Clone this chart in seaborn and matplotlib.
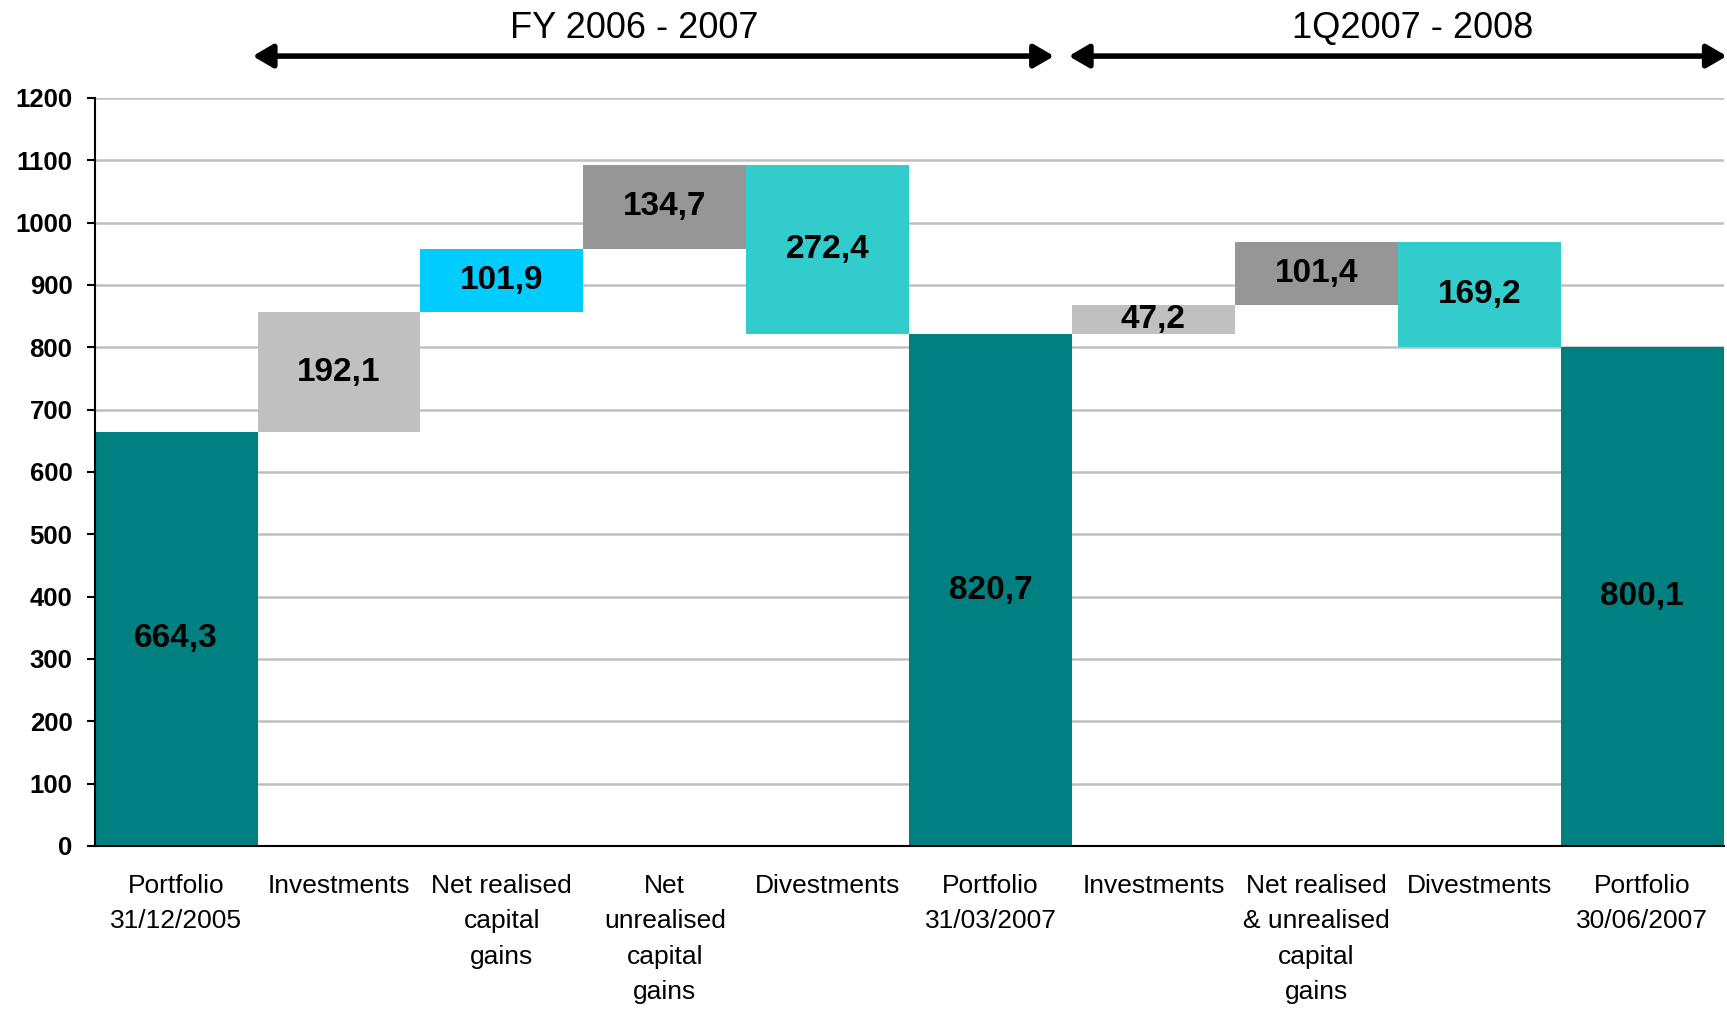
import matplotlib
matplotlib.use("Agg")
import matplotlib.pyplot as plt
import seaborn as sns
import numpy as np

# ---- data ----
categories = ["Portfolio\n31/12/2005", "Investments", "Net realised\ncapital\ngains",
              "Net\nunrealised\ncapital\ngains", "Divestments", "Portfolio\n31/03/2007",
              "Investments", "Net realised\n& unrealised\ncapital\ngains", "Divestments",
              "Portfolio\n30/06/2007"]
values = [664.3, 192.1, 101.9, 134.7, 272.4, 820.7, 47.2, 101.4, 169.2, 800.1]
bases = [0, 664.3, 856.4, 958.3, 820.6, 0, 820.7, 867.9, 800.1, 0]
bar_colors = ["#008080", "#C0C0C0", "#00CCFF", "#969696", "#33CCCC", "#008080",
              "#C0C0C0", "#969696", "#33CCCC", "#008080"]
period_titles = ["FY 2006 - 2007", "1Q2007 - 2008"]
period_spans = [(0.47, 5.39), (5.48, 9.52)]
title_x = [2.81, 7.59]
yticks = list(range(0, 1300, 100))

sns.set_style("white")
plt.rcParams["font.family"] = ["Liberation Sans", "DejaVu Sans"]
plt.rcParams["text.color"] = "black"
plt.rcParams["xtick.color"] = "black"
plt.rcParams["ytick.color"] = "black"

fig = plt.figure(figsize=(17.27, 10.10), dpi=100)
ax = fig.add_axes([0.0548, 0.1624, 0.9432, 0.7406])

pos = list(range(len(values)))
sns.barplot(x=pos, y=values, bottom=bases, width=1.0, saturation=1,
            errorbar=None, edgecolor="none", linewidth=0, ax=ax, color="#008080")
for patch, c in zip(ax.patches, bar_colors):
    patch.set_facecolor(c)

for i, (v, b) in enumerate(zip(values, bases)):
    ax.text(i, b + v / 2, f"{v:.1f}".replace(".", ","), ha="center", va="center",
            fontsize=24, fontweight="bold", color="black")

ax.set_xlim(-0.5, 9.5)
ax.set_ylim(0, 1200)
ax.set_yticks(yticks)
ax.set_yticklabels([str(t) for t in yticks], fontsize=18.5, fontweight="bold", color="black")
ax.set_xticks(pos)
ax.set_xticklabels(categories, fontsize=19, linespacing=1.6, color="black")
ax.set_xticks(np.arange(-0.5, 10, 1.0), minor=True)
ax.tick_params(axis="x", which="major", length=0, pad=20)
ax.tick_params(axis="x", which="minor", length=8, width=1.5, direction="out", color="black")
ax.tick_params(axis="y", which="major", length=6, width=1.5, direction="out", color="black", pad=10, left=True)
ax.set_xlabel("")
ax.set_ylabel("")

ax.set_axisbelow(True)
ax.yaxis.grid(True, color="#C0C0C0", linewidth=1.8)
ax.xaxis.grid(False)
for side in ["top", "right"]:
    ax.spines[side].set_visible(False)
for side in ["left", "bottom"]:
    ax.spines[side].set_visible(True)
    ax.spines[side].set_color("black")
    ax.spines[side].set_linewidth(1.5)

trans = ax.get_xaxis_transform()
for (x0, x1), t, tx in zip(period_spans, period_titles, title_x):
    ax.annotate("", xy=(x1, 1.056), xytext=(x0, 1.056), xycoords=trans, textcoords=trans,
                arrowprops=dict(arrowstyle="<|-|>,head_length=0.6,head_width=0.35",
                                lw=4, color="black", shrinkA=0, shrinkB=0, mutation_scale=20),
                annotation_clip=False)
    ax.text(tx, 1.093, t, transform=trans, ha="center", va="center", fontsize=26, clip_on=False)

fig.savefig("out.png", dpi=100)
